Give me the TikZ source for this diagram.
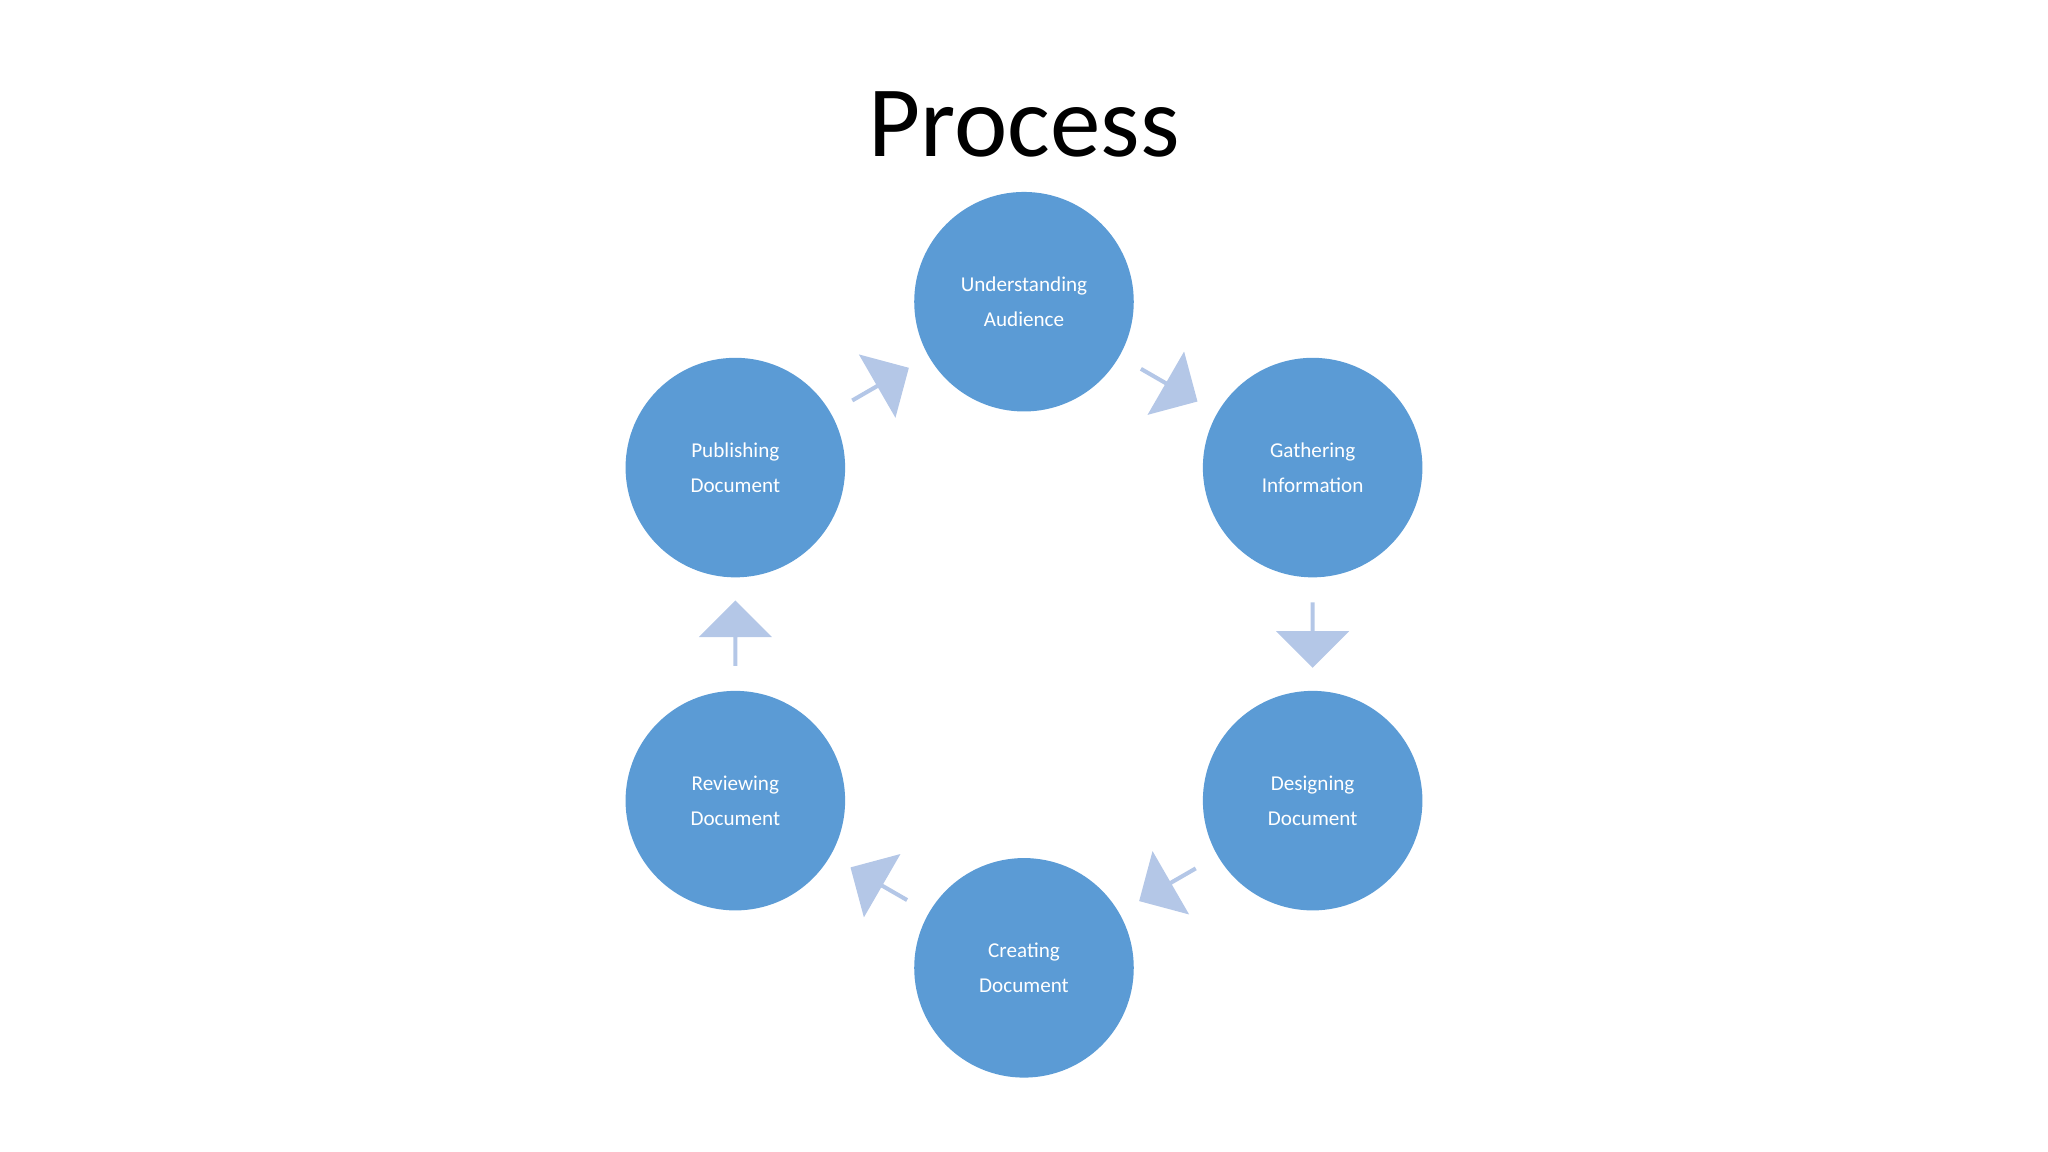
\documentclass[tikz,border=0pt]{standalone}
\usepackage{fontspec}
\setmainfont{Carlito}
\usetikzlibrary{shapes.arrows,calc}
\definecolor{circ}{HTML}{5B9BD5}
\definecolor{arr}{HTML}{B4C7E7}
\tikzset{
 stage/.style={circle,fill=circ,minimum size=1.68cm,inner sep=0pt,text=white,align=center,font=\fontsize{4.6}{7.7}\selectfont},
 blockarrow/.style={single arrow,fill=arr,minimum height=0.5cm,minimum width=0.56cm,single arrow head extend=0.12cm,inner sep=0pt}
}
\begin{document}
\begin{tikzpicture}[x=0.01cm,y=-0.01cm]
\useasboundingbox (0,0) rectangle (1568,882);
\node (title) at (784,95) {\fontsize{22}{26}\selectfont Process};
\node[stage] (a) at (784,231) {Understanding\\Audience};
\node[stage] (b) at (1005,358) {Gathering\\Information};
\node[stage] (c) at (1005,613) {Designing\\Document};
\node[stage] (d) at (784,741) {Creating\\Document};
\node[stage] (e) at (563,613) {Reviewing\\Document};
\node[stage] (f) at (563,358) {Publishing\\Document};
\node[blockarrow,rotate=-30] (ab) at ($(a)!0.5!(b)$) {};
\node[blockarrow,rotate=-90] (bc) at ($(b)!0.5!(c)$) {};
\node[blockarrow,rotate=-150] (cd) at ($(c)!0.5!(d)$) {};
\node[blockarrow,rotate=150] (de) at ($(d)!0.5!(e)$) {};
\node[blockarrow,rotate=90] (ef) at ($(e)!0.5!(f)$) {};
\node[blockarrow,rotate=30] (fa) at ($(f)!0.5!(a)$) {};
\end{tikzpicture}
\end{document}
